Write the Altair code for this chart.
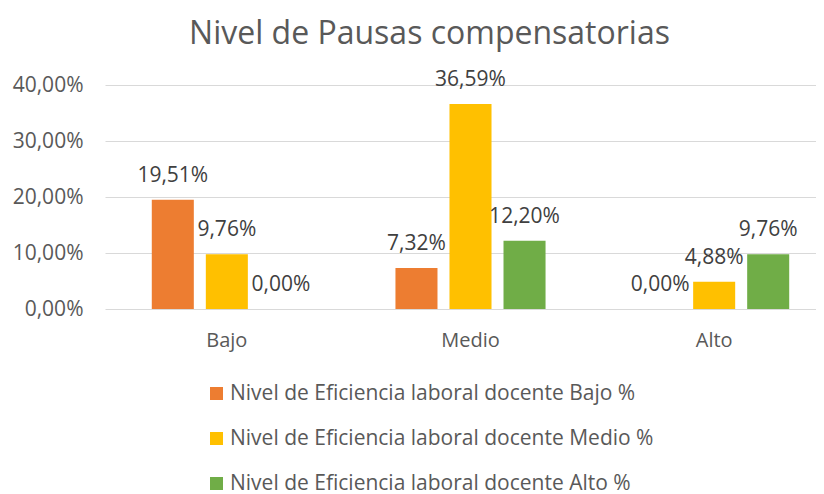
import altair as alt
import pandas as pd

categories = ["Bajo", "Medio", "Alto"]
series = [
    "Nivel de Eficiencia laboral docente Bajo %",
    "Nivel de Eficiencia laboral docente Medio %",
    "Nivel de Eficiencia laboral docente Alto %",
]
colors = ["#ED7D31", "#FFC000", "#70AD47"]
values_bajo = [0.1951, 0.0976, 0.0000]
values_medio = [0.0732, 0.3659, 0.1220]
values_alto = [0.0000, 0.0488, 0.0976]
y_ticks = [0, 0.1, 0.2, 0.3, 0.4]

rows = []
for cat, vals in zip(categories, [values_bajo, values_medio, values_alto]):
    for s, v in zip(series, vals):
        rows.append({"cat": cat, "serie": s, "v": v})
df = pd.DataFrame(rows)

FONT = "Open Sans"
GREY = "#595959"
FS = 21

x = alt.X("cat:N", sort=categories, title=None,
          scale=alt.Scale(range=[0, 731], paddingInner=0, paddingOuter=0),
          axis=alt.Axis(labelAngle=0, domain=False, ticks=False, labelPadding=21,
                        labelFont=FONT, labelFontSize=20, labelColor=GREY))
xo = alt.XOffset("serie:N", sort=series,
                 scale=alt.Scale(paddingInner=0.222, paddingOuter=0.866))

base = alt.Chart(df)

bars = base.mark_bar().encode(
    x=x, xOffset=xo,
    y=alt.Y("v:Q", title=None,
            scale=alt.Scale(domain=[0, 0.4], nice=False),
            axis=alt.Axis(values=y_ticks, domain=False, ticks=False,
                          labelExpr="replace(format(datum.value, '.2%'), '.', ',')",
                          labelFont=FONT, labelFontSize=FS, labelColor=GREY,
                          labelPadding=22, gridColor="#D9D9D9", gridWidth=1)),
    color=alt.Color("serie:N", sort=series,
                    scale=alt.Scale(domain=series, range=colors),
                    legend=alt.Legend(title=None, orient="none", legendX=101, legendY=298,
                                      direction="vertical", symbolType="square",
                                      symbolSize=169, symbolStrokeWidth=0,
                                      labelFont=FONT, labelFontSize=FS, labelColor=GREY,
                                      labelLimit=600, rowPadding=23, padding=0,
                                      labelOffset=3)),
)

labels = base.transform_calculate(
    lab="replace(format(datum.v, '.2%'), '.', ',')"
).mark_text(font=FONT, fontSize=FS, color="#404040", baseline="bottom", dy=-14).encode(
    x=x, xOffset=xo, y="v:Q", text="lab:N"
)

chart = alt.layer(bars, labels).properties(
    width=711, height=224,
    autosize=alt.AutoSizeParams(type="none"),
    padding={"left": 97, "top": 77, "right": 0, "bottom": 185},
    title=alt.TitleParams("Nivel de Pausas compensatorias", font=FONT, fontSize=32,
                          fontWeight="normal", color=GREY, anchor="middle", dx=-31, offset=18),
).configure_view(stroke=None)

chart.save("out.html", embed_options={"renderer": "svg", "actions": False})
